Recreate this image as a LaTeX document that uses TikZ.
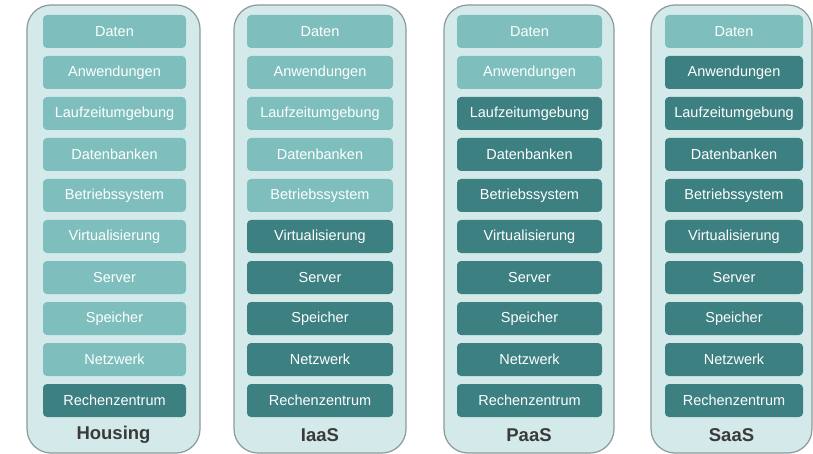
\documentclass[tikz,border=0pt]{standalone}
\usepackage{fontspec}
\setmainfont{Liberation Sans}
\definecolor{lightbox}{RGB}{126,191,190}
\definecolor{darkbox}{RGB}{61,128,129}
\definecolor{contfill}{RGB}{212,234,234}
\definecolor{contline}{RGB}{140,154,154}
\definecolor{labelgray}{RGB}{58,58,58}
\tikzset{
  container/.style={draw=contline, fill=contfill, line width=1.2pt, rounded corners=24pt},
  layer/.style={rounded corners=4pt, minimum height=33pt, inner sep=0pt, text=white,
    font=\fontsize{14.5}{16}\selectfont},
  lightlayer/.style={layer, fill=lightbox},
  darklayer/.style={layer, fill=darkbox},
  collabel/.style={font=\fontsize{18.5}{20}\selectfont\bfseries, text=labelgray}
}
\newcommand{\stackcol}[7]{%
  \node[container, minimum width=#3-#2, minimum height=448pt, inner sep=0pt] (#1) at ({(#2+#3)/2},229) {};
  \foreach \t [count=\i from 0] in {Daten,Anwendungen,Laufzeitumgebung,Datenbanken,Betriebssystem,Virtualisierung,Server,Speicher,Netzwerk,Rechenzentrum}{
    \ifnum\i<#6\relax\def\st{lightlayer}\else\def\st{darklayer}\fi
    \node[\st, minimum width=#5-#4] (#1-\i) at ({(#4+#5)/2},{31.5+41*\i}) {\t};
  }
  \node[collabel] (#1-label) at ({(#2+#3)/2},435) {#7};
}
\begin{document}
\begin{tikzpicture}[x=1pt,y=-1pt]
\useasboundingbox (0,0) rectangle (813,454);
\fill[white] (0,0) rectangle (813,454);
\stackcol{housing}{27}{200}{43}{186}{9}{Housing}
\stackcol{iaas}{234}{406}{247}{393}{5}{IaaS}
\stackcol{paas}{444}{614}{457}{602}{2}{PaaS}
\stackcol{saas}{651}{812}{665}{803}{1}{SaaS}
\end{tikzpicture}
\end{document}
